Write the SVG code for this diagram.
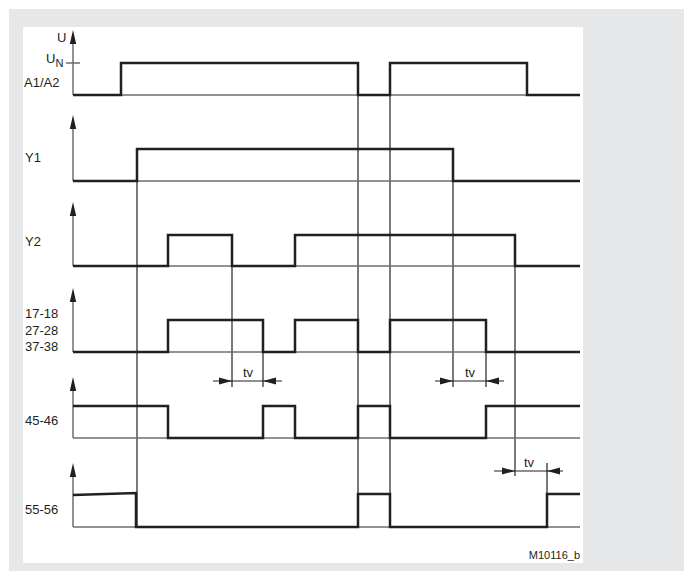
<svg xmlns="http://www.w3.org/2000/svg" width="693" height="571" viewBox="0 0 693 571">
<style>
.sig{fill:none;stroke:#231f20;stroke-width:2.5;stroke-linejoin:miter}
.base{fill:none;stroke:#6d6e70;stroke-width:1.3}
.axis{fill:none;stroke:#6d6e70;stroke-width:1.5}
.mk{fill:none;stroke:#231f20;stroke-width:1.2}
.ah{fill:#231f20}
text{font-family:"Liberation Sans",Arial,sans-serif;font-size:13px;fill:#231f20}
</style>
<defs>
<path id="up" d="M0,0 L-3.2,14 L3.2,14 Z" class="ah"/>
</defs>
<rect x="9" y="9" width="675" height="562" fill="#e6e7e8"/>
<rect x="23" y="27" width="560" height="536" fill="#ffffff"/>

<g id="connectors">
<line class="mk" x1="137" y1="149" x2="137" y2="527"/>
<line class="mk" x1="232" y1="235" x2="232" y2="387"/>
<line class="mk" x1="263" y1="320" x2="263" y2="387"/>
<line class="mk" x1="358" y1="63" x2="358" y2="527"/>
<line class="mk" x1="390" y1="63" x2="390" y2="527"/>
<line class="mk" x1="453" y1="149" x2="453" y2="387"/>
<line class="mk" x1="486" y1="320" x2="486" y2="387"/>
<line class="mk" x1="515" y1="235" x2="515" y2="476"/>
<line class="mk" x1="547" y1="463" x2="547" y2="527"/>
</g>

<g id="row-a1a2">
<line class="axis" x1="73" y1="40" x2="73" y2="95"/>
<use href="#up" x="73" y="30"/>
<line class="axis" x1="66" y1="63" x2="80" y2="63"/>
<line class="base" x1="73" y1="95" x2="580" y2="95"/>
<polyline class="sig" points="73,95 121,95 121,63 358,63 358,95 390,95 390,63 527,63 527,95 580,95"/>
<text x="57" y="42">U</text>
<text x="46" y="63">U<tspan font-size="11" dy="4">N</tspan></text>
<text x="24" y="87">A1/A2</text>
</g>

<g id="row-y1">
<line class="axis" x1="73" y1="125" x2="73" y2="181"/>
<use href="#up" x="73" y="115"/>
<line class="base" x1="73" y1="181" x2="580" y2="181"/>
<polyline class="sig" points="73,181 137,181 137,149 453,149 453,181 580,181"/>
<text x="25" y="162">Y1</text>
</g>

<g id="row-y2">
<line class="axis" x1="73" y1="212" x2="73" y2="266"/>
<use href="#up" x="73" y="202"/>
<line class="base" x1="73" y1="266" x2="580" y2="266"/>
<polyline class="sig" points="73,266 168,266 168,235 232,235 232,266 295,266 295,235 515,235 515,266 580,266"/>
<text x="25" y="246">Y2</text>
</g>

<g id="row-17-18">
<line class="axis" x1="73" y1="298" x2="73" y2="352"/>
<use href="#up" x="73" y="288"/>
<line class="base" x1="73" y1="352" x2="580" y2="352"/>
<polyline class="sig" points="73,352 168,352 168,320 263,320 263,352 295,352 295,320 358,320 358,352 390,352 390,320 486,320 486,352 580,352"/>
<text x="25" y="318">17-18</text>
<text x="25" y="335">27-28</text>
<text x="25" y="351">37-38</text>
</g>

<g id="row-45-46">
<line class="axis" x1="73" y1="387" x2="73" y2="438"/>
<use href="#up" x="73" y="377"/>
<line class="base" x1="73" y1="438" x2="580" y2="438"/>
<polyline class="sig" points="73,406 168,406 168,438 263,438 263,406 295,406 295,438 358,438 358,406 390,406 390,438 486,438 486,406 580,406"/>
<text x="25" y="425">45-46</text>
</g>

<g id="row-55-56">
<line class="axis" x1="73" y1="473" x2="73" y2="527"/>
<use href="#up" x="73" y="463"/>
<line class="base" x1="73" y1="527" x2="580" y2="527"/>
<polyline class="sig" points="73,495 136,493 136,527 358,527 358,494 390,494 390,527 547,527 547,494 580,494"/>
<text x="25" y="514">55-56</text>
</g>

<g id="tv1">
<line class="mk" x1="213" y1="381" x2="282" y2="381"/>
<polygon class="ah" points="232,381 219,377.5 219,384.5"/>
<polygon class="ah" points="263,381 276,377.5 276,384.5"/>
<text x="248" y="377" text-anchor="middle">tv</text>
</g>
<g id="tv2">
<line class="mk" x1="435" y1="381" x2="504" y2="381"/>
<polygon class="ah" points="453,381 440,377.5 440,384.5"/>
<polygon class="ah" points="486,381 499,377.5 499,384.5"/>
<text x="470" y="377" text-anchor="middle">tv</text>
</g>
<g id="tv3">
<line class="mk" x1="494" y1="471" x2="563" y2="471"/>
<polygon class="ah" points="515,471 502,467.5 502,474.5"/>
<polygon class="ah" points="547,471 560,467.5 560,474.5"/>
<text x="529" y="467" text-anchor="middle">tv</text>
</g>

<text x="580" y="559" text-anchor="end" font-size="11" style="font-size:11px">M10116_b</text>
</svg>
